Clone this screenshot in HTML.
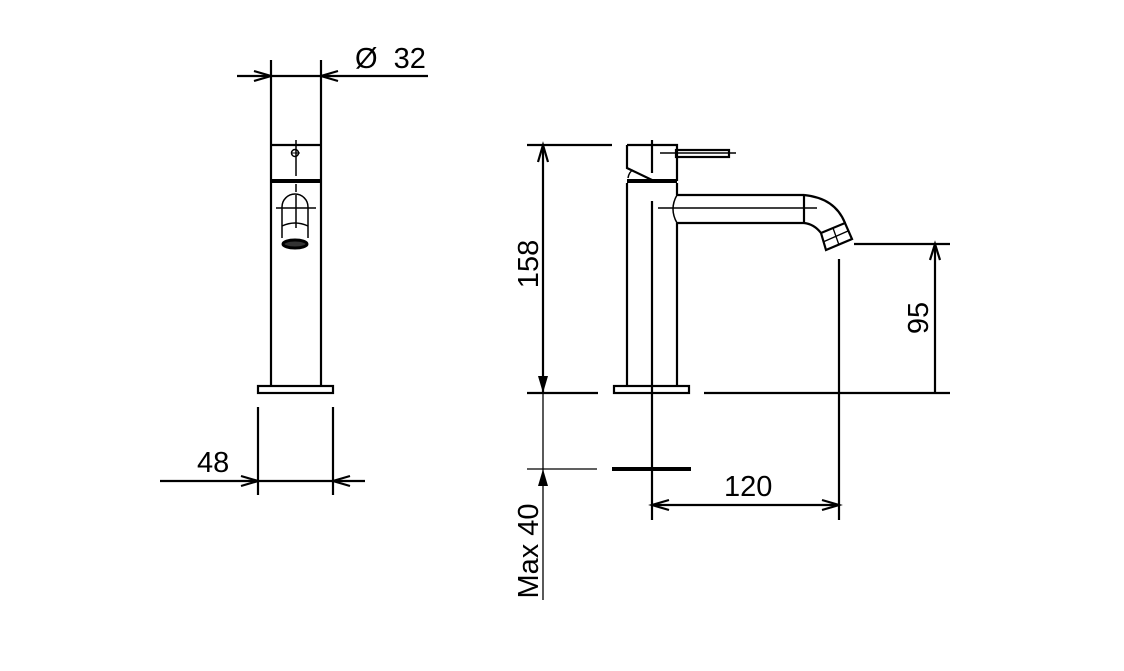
<!DOCTYPE html>
<html><head><meta charset="utf-8"><style>
html,body{margin:0;padding:0;background:#fff;}
svg{display:block;}
text{font-family:"Liberation Sans",Arial,sans-serif;font-size:29px;fill:#000;white-space:pre;}
</style></head><body>
<svg width="1124" height="671" viewBox="0 0 1124 671" xmlns="http://www.w3.org/2000/svg">
<g stroke="#000" fill="none" stroke-width="2.2">
<!-- LEFT VIEW -->
<line x1="271" y1="60" x2="271" y2="385"/>
<line x1="321" y1="60" x2="321" y2="385"/>
<line x1="237" y1="76" x2="428" y2="76"/>
<polyline points="254,71 271,76 254,81"/>
<polyline points="338,71 321,76 338,81"/>
<line x1="271" y1="145" x2="321" y2="145"/>
<line x1="271" y1="181" x2="321" y2="181" stroke-width="4"/>
<line x1="296" y1="140" x2="296" y2="176" stroke-width="1.5"/>
<line x1="296" y1="184" x2="296" y2="192" stroke-width="1.5"/>
<circle cx="295" cy="153" r="3.5" stroke-width="1.5"/>
<line x1="291" y1="153" x2="300" y2="153" stroke-width="1"/>
<path d="M282,238 L282,207 A13,13 0 0 1 308,207 L308,238" stroke-width="1.5"/>
<line x1="276" y1="208" x2="316" y2="208" stroke-width="1.5"/>
<line x1="296" y1="195" x2="296" y2="228" stroke-width="1.5"/>
<path d="M282,226 Q295,220 308,226" stroke-width="1.5"/>
<ellipse cx="295" cy="244" rx="12" ry="4" stroke-width="3" fill="#333"/>
<rect x="258" y="386" width="75" height="7"/>
<line x1="258" y1="407" x2="258" y2="495"/>
<line x1="333" y1="407" x2="333" y2="495"/>
<line x1="160" y1="481" x2="365" y2="481"/>
<polyline points="241,476 258,481 241,486"/>
<polyline points="350,476 333,481 350,486"/>

<!-- RIGHT VIEW -->
<line x1="527" y1="145" x2="612" y2="145"/>
<line x1="543" y1="145" x2="543" y2="393"/>
<polyline points="538,162 543,145 548,162"/>
<line x1="527" y1="393" x2="598" y2="393"/>
<line x1="543" y1="393" x2="543" y2="600" stroke-width="1.3"/>
<line x1="527" y1="469" x2="597" y2="469" stroke-width="1.3"/>
<line x1="704" y1="393" x2="950" y2="393"/>
<rect x="614" y="386" width="75" height="7"/>
<line x1="612" y1="469" x2="691" y2="469" stroke-width="4"/>
<path d="M627,145 L677,145 L677,181 M627,145 L627,168 L652,180"/>
<path d="M628,178 Q629,172 633,170" stroke-width="1.5"/>
<line x1="627" y1="181" x2="677" y2="181" stroke-width="4"/>
<line x1="627" y1="183" x2="627" y2="385"/>
<line x1="677" y1="183" x2="677" y2="195"/>
<line x1="677" y1="223" x2="677" y2="385"/>
<rect x="676" y="150" width="53" height="7"/>
<line x1="660" y1="153" x2="736" y2="153" stroke-width="1.5"/>
<line x1="677" y1="195" x2="804" y2="195"/>
<line x1="677" y1="223" x2="804" y2="223"/>
<path d="M677,195 Q669,209 677,223" stroke-width="1.5"/>
<line x1="804" y1="195" x2="804" y2="223"/>
<line x1="658" y1="208" x2="817" y2="208" stroke-width="1.5"/>
<path d="M804,195 Q835,198 845,223"/>
<path d="M804,223 Q814,224 821,233"/>
<polygon points="821,233 845,223 852,239 826,250"/>
<line x1="833" y1="228" x2="839" y2="245" stroke-width="1.3"/>
<line x1="823" y1="242" x2="848" y2="231" stroke-width="1.3"/>
<line x1="652" y1="140" x2="652" y2="173"/>
<line x1="652" y1="201" x2="652" y2="520"/>
<line x1="854" y1="244" x2="950" y2="244"/>
<line x1="935" y1="244" x2="935" y2="393"/>
<polyline points="930,260 935,244 940,260"/>
<line x1="839" y1="259" x2="839" y2="520"/>
<line x1="652" y1="505" x2="839" y2="505"/>
<polyline points="669,500 652,505 669,510"/>
<polyline points="822,500 839,505 822,510"/>
</g>
<g fill="#000">
<polygon points="538,376 548,376 543,393"/>
<polygon points="538,486 548,486 543,469"/>
</g>
<text x="355" y="68">Ø  32</text>
<text x="197" y="472">48</text>
<text x="724" y="496">120</text>
<text transform="translate(538,264) rotate(-90)" text-anchor="middle">158</text>
<text transform="translate(538,551) rotate(-90)" text-anchor="middle">Max 40</text>
<text transform="translate(928,318) rotate(-90)" text-anchor="middle">95</text>
</svg>
</body></html>
